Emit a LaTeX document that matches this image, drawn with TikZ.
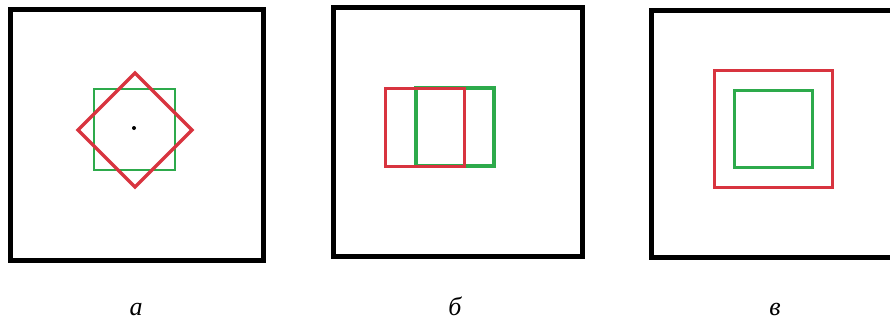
\documentclass[tikz,border=0pt]{standalone}
\usepackage{fontspec}
\setmainfont{Liberation Serif}
\usepackage{xcolor}
\usepackage{tikz}
\definecolor{sqred}{HTML}{D8343F}
\definecolor{sqgreen}{HTML}{2DAA4B}
\begin{document}
\begin{tikzpicture}[x=1pt, y=-1pt,
  frame/.style={draw=black, line width=5pt, line join=miter},
  redsq/.style={draw=sqred, line width=3pt},
  greensq/.style={draw=sqgreen, line width=3pt},
  panellabel/.style={font=\fontsize{26}{31}\selectfont\itshape, anchor=base, inner sep=0pt}
]
\useasboundingbox (0,0) rectangle (890,322);
% panel a
\draw[frame] (10,9) rectangle (263,260);
\draw[greensq, line width=2.5pt] (94,89) rectangle (175,170);
\draw[redsq, line width=3.5pt] (135,73) -- (192,130) -- (135,187) -- (78,130) -- cycle;
\fill (134,128) circle (2pt);
\node[panellabel] (capa) at (136,315) {а};
% panel b
\draw[frame] (333,7) rectangle (582,256);
\draw[greensq, line width=4.5pt] (416,88) rectangle (494,166);
\draw[redsq] (385,88) rectangle (464,166);
\node[panellabel] (capb) at (455,315) {б};
% panel c
\draw[frame] (900,10) -- (651,10) -- (651,257) -- (900,257);
\draw[redsq] (714,70) rectangle (832,187);
\draw[greensq] (734,90) rectangle (812,167);
\node[panellabel] (capc) at (775,315) {в};
\end{tikzpicture}
\end{document}
